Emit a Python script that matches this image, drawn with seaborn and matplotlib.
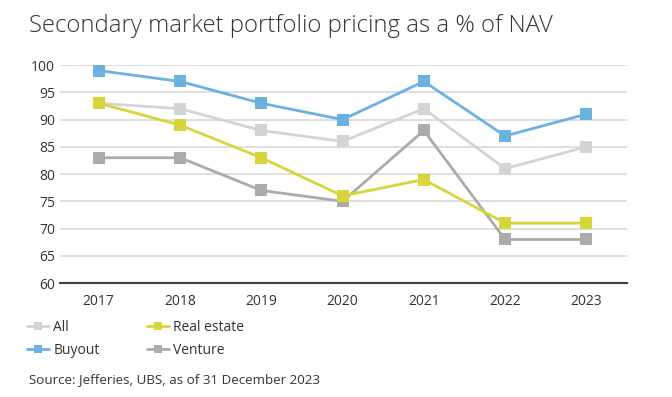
import pandas as pd
import matplotlib
matplotlib.use("Agg")
import matplotlib.pyplot as plt
import seaborn as sns

# Datos
years = ["2017", "2018", "2019", "2020", "2021", "2022", "2023"]
all_vals = [93, 92, 88, 86, 92, 81, 85]
buyout = [99, 97, 93, 90, 97, 87, 91]
real_estate = [93, 89, 83, 76, 79, 71, 71]
venture = [83, 83, 77, 75, 88, 68, 68]
series_names = ["All", "Buyout", "Real estate", "Venture"]
colors = ["#d4d4d4", "#6cb2e0", "#d6d63c", "#ababab"]

df = pd.DataFrame({"All": all_vals, "Buyout": buyout,
                   "Real estate": real_estate, "Venture": venture})
df["Year"] = years
df_long = df.melt(id_vars="Year", var_name="Serie", value_name="Value")

sns.set_style("white")
plt.rcParams["font.family"] = ["Open Sans", "DejaVu Sans"]

fig = plt.figure(figsize=(6.72, 3.97), dpi=100)
ax = fig.add_axes([0.089, 0.287, 0.844, 0.549])

# dibujar en orden: venture abajo, buyout arriba
order_draw = ["Venture", "All", "Real estate", "Buyout"]
for name in order_draw:
    sub = df_long[df_long["Serie"] == name]
    sns.lineplot(data=sub, x="Year", y="Value", ax=ax, color=colors[series_names.index(name)],
                 marker="s", markersize=9, markeredgewidth=0, linewidth=2,
                 label=name, clip_on=False, sort=False)

ax.set_ylim(60, 100)
ax.set_xlim(-0.48, 6.5)
ax.set_yticks(range(60, 101, 5))
ax.yaxis.grid(True, color="#d9d9d9", linewidth=1.2)
ax.set_xlabel("")
ax.set_ylabel("")
for s in ["top", "right", "left"]:
    ax.spines[s].set_visible(False)
ax.spines["bottom"].set_color("#404040")
ax.spines["bottom"].set_linewidth(1.5)
ax.tick_params(axis="both", length=0, labelsize=10, colors="#333333")
ax.tick_params(axis="x", pad=8)

# leyenda en el orden original
handles, labels = ax.get_legend_handles_labels()
hmap = dict(zip(labels, handles))
ax.legend([hmap[n] for n in series_names], series_names, ncol=2,
          loc="upper left", bbox_to_anchor=(-0.08, -0.11), frameon=False,
          fontsize=10, handlelength=1.6, markerscale=0.6, columnspacing=3.4,
          labelspacing=0.6, handletextpad=0.3, labelcolor="#333333")

fig.text(0.043, 0.92, "Secondary market portfolio pricing as a % of NAV",
         fontsize=17.2, color="#333333", fontweight="light")
fig.text(0.043, 0.035, "Source: Jefferies, UBS, as of 31 December 2023",
         fontsize=9.6, color="#333333")

fig.savefig("out.png", dpi=100)
